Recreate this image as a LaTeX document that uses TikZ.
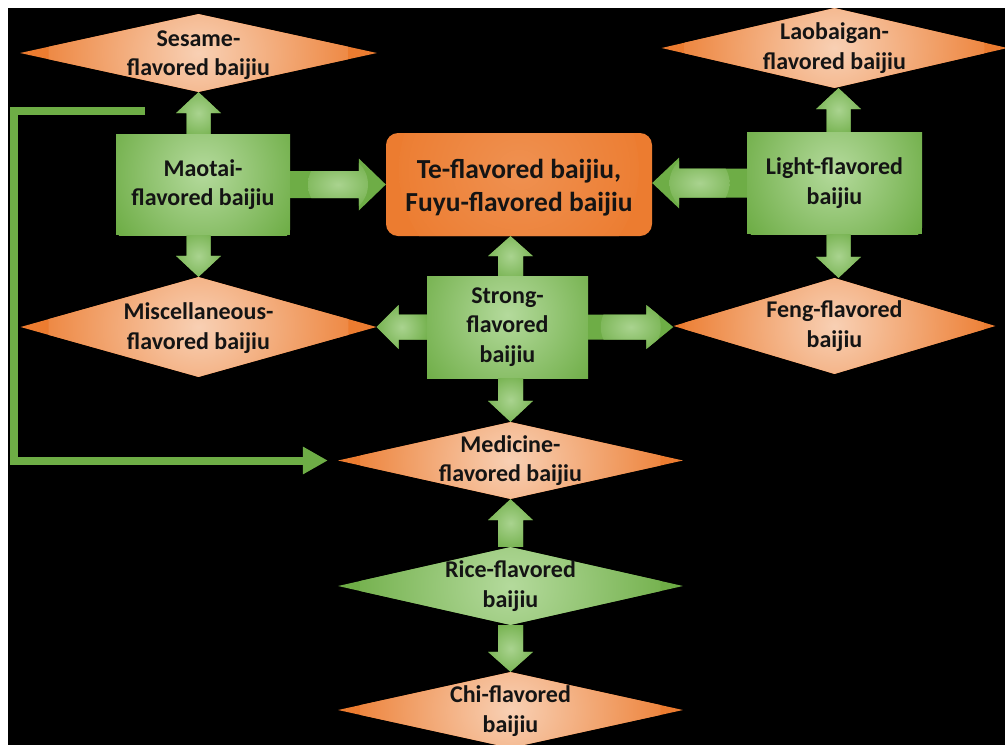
\documentclass[tikz,border=0pt]{standalone}
\usepackage{fontspec}
\setmainfont{Carlito}
\usetikzlibrary{shapes.geometric,calc,arrows.meta}
\definecolor{orD}{HTML}{EC7C30}
\definecolor{orL}{HTML}{F8D0B4}
\definecolor{grD}{HTML}{6EAD46}
\definecolor{grL}{HTML}{B4DA9C}
\definecolor{txt}{HTML}{141414}
\newcommand\dfont{\fontsize{24}{29.5}\selectfont\bfseries}
\newcommand\tfont{\fontsize{27.5}{33}\selectfont\bfseries}
\newcommand\barr[5]{%
  \coordinate (baA) at (#1);
  \coordinate (baB) at (#2);
  \coordinate (baH) at ($(baB)!#5pt!(baA)$);
  \path[blockarrow] ($(baA)!#3pt!90:(baB)$) -- ($(baH)!#3pt!90:(baB)$)
    -- ($(baH)!#4pt!90:(baB)$) -- (baB) -- ($(baH)!#4pt!-90:(baB)$)
    -- ($(baH)!#3pt!-90:(baB)$) -- ($(baA)!#3pt!-90:(baB)$) -- cycle;}
\begin{document}
\begin{tikzpicture}[x=1pt,y=-1pt,
  dia/.style={diamond, inner sep=0pt, fill=orD,
    path picture={\shade[inner color=orL, outer color=orD]
      (path picture bounding box.center) circle (150pt);}},
  gdia/.style={diamond, inner sep=0pt, fill=grD,
    path picture={\shade[inner color=grL, outer color=grD]
      (path picture bounding box.center) circle (150pt);}},
  dtext/.style={align=center, text=txt, font=\dfont, inner sep=0pt},
  ttext/.style={align=center, text=txt, font=\tfont, inner sep=0pt},
  gbox/.style={rectangle, inner sep=0pt, fill=grD, align=center, text=txt, font=\dfont,
    path picture={\shade[inner color=grL, outer color=grD]
      ([yshift=12pt]path picture bounding box.center) circle (105pt);}},
  tebox/.style={rectangle, rounded corners=12pt, inner sep=0pt, fill=orD,
    path picture={\shade[inner color=orD!75!orL, outer color=orD]
      ([yshift=15pt]path picture bounding box.center) circle (120pt);}},
  blockarrow/.style={fill=grD,
    path picture={\shade[inner color=grL!85!grD, outer color=grD]
      (path picture bounding box.center) circle (30pt);}},
  fbline/.style={draw=grD, line width=8pt, line join=miter,
    -{Triangle[width=26pt,length=25pt]}, shorten >=10pt}
]
\useasboundingbox (0,0) rectangle (1005,745);
\fill[white] (0,0) rectangle (1005,745);
\fill[black] (8,8) rectangle (1005,745);

% diamonds
\node[dia, minimum width=357pt, minimum height=78pt] (ses) at (198.5,53) {};
\node[dia, minimum width=356pt, minimum height=100pt] (misc) at (198.5,327) {};
\node[dia, minimum width=346pt, minimum height=80pt] (lao) at (834.5,48) {};
\node[dia, minimum width=322pt, minimum height=96pt] (feng) at (834.5,326) {};
\node[dia, minimum width=345pt, minimum height=77pt] (med) at (510.5,460.5) {};
\node[gdia, minimum width=345pt, minimum height=78pt] (rice) at (510.5,586) {};
\node[dia, minimum width=345pt, minimum height=76pt] (chi) at (510.5,710) {};

\node[dtext] (sesT) at ([yshift=-2pt]ses.center) {Sesame-\\flavored baijiu};
\node[dtext] (miscT) at ([yshift=-1pt]misc.center) {Miscellaneous-\\flavored baijiu};
\node[dtext] (laoT) at (lao.center) {Laobaigan-\\flavored baijiu};
\node[dtext] (fengT) at (feng.center) {Feng-flavored\\baijiu};
\node[dtext] (medT) at (med.center) {Medicine-\\flavored baijiu};
\node[dtext] (riceT) at (rice.center) {Rice-flavored\\baijiu};
\node[dtext] (chiT) at ([yshift=-1pt]chi.center) {Chi-flavored\\baijiu};

% boxes
\node[gbox, minimum width=174pt, minimum height=101pt] (mao) at (203,184.5) {Maotai-\\flavored baijiu};
\node[tebox, minimum width=266pt, minimum height=103pt] (te) at (519,184.5) {};
\node[ttext] (teT) at ([yshift=-3pt]te.center) {Te-flavored baijiu,\\Fuyu-flavored baijiu};
\node[gbox, minimum width=161pt, minimum height=102pt] (strong) at (507.5,327) {Strong-\\flavored\\baijiu};
\node[gbox, minimum width=175pt, minimum height=102pt] (light) at (834.5,183) {Light-flavored\\baijiu};

% block arrows
\barr{ses.south |- mao.north}{ses.south}{12}{22.5}{21}
\barr{misc.north |- mao.south}{misc.north}{12}{22.5}{21}
\barr{mao.east}{te.west}{13.5}{26}{27}
\barr{[xshift=4pt]light.north}{[xshift=4pt]lao.south}{12}{22.5}{21}
\barr{[xshift=4pt]light.south}{[xshift=4pt]feng.north}{12}{22.5}{21}
\barr{light.west}{te.east |- light.west}{14.5}{25.5}{27}
\barr{med.north |- strong.north}{med.north |- te.south}{12.5}{22.5}{20}
\barr{strong.west}{misc.east |- strong.west}{12.5}{22}{22}
\barr{strong.east}{feng.west |- strong.east}{12.5}{22}{27}
\barr{med.north |- strong.south}{med.north}{12.5}{22.5}{21}
\barr{rice.north}{med.south}{12.5}{22.5}{21}
\barr{rice.south}{chi.north}{12.5}{22.5}{20}

% feedback line
\coordinate (lstart) at (145,111);
\draw[fbline] (lstart) -- ++(-131,0) |- (med.west);
\end{tikzpicture}
\end{document}
